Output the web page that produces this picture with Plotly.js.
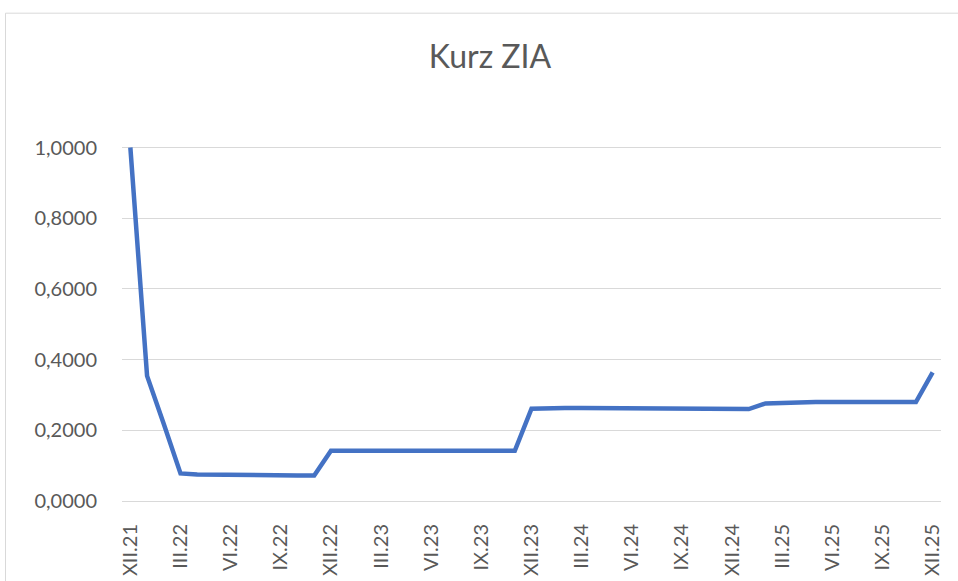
<!DOCTYPE html>
<html>
<head>
<meta charset="utf-8">
<script src="https://cdn.plot.ly/plotly-3.0.1.min.js"></script>
<style>
html,body{margin:0;padding:0;background:#fff;}
#chart{width:958px;height:581px;}
</style>
</head>
<body>
<div id="chart"></div>
<script>
const months = [
  "XII.21","I.22","II.22","III.22","IV.22","V.22","VI.22","VII.22","VIII.22","IX.22","X.22","XI.22",
  "XII.22","I.23","II.23","III.23","IV.23","V.23","VI.23","VII.23","VIII.23","IX.23","X.23","XI.23",
  "XII.23","I.24","II.24","III.24","IV.24","V.24","VI.24","VII.24","VIII.24","IX.24","X.24","XI.24",
  "XII.24","I.25","II.25","III.25","IV.25","V.25","VI.25","VII.25","VIII.25","IX.25","X.25","XI.25",
  "XII.25"
];
const kurz = [
  1.0000, 0.3540, 0.2180, 0.0780, 0.0750, 0.0740, 0.0740, 0.0730, 0.0720, 0.0720, 0.0720, 0.0720,
  0.1420, 0.1420, 0.1420, 0.1420, 0.1420, 0.1420, 0.1420, 0.1420, 0.1420, 0.1420, 0.1420, 0.1420,
  0.2610, 0.2630, 0.2630, 0.2630, 0.2630, 0.2630, 0.2630, 0.2630, 0.2630, 0.2600, 0.2600, 0.2600,
  0.2600, 0.2600, 0.2760, 0.2780, 0.2800, 0.2800, 0.2800, 0.2800, 0.2800, 0.2800, 0.2800, 0.2800,
  0.3640
];
const tickLabels = ["XII.21","III.22","VI.22","IX.22","XII.22","III.23","VI.23","IX.23","XII.23",
  "III.24","VI.24","IX.24","XII.24","III.25","VI.25","IX.25","XII.25"];
const titleText = "Kurz ZIA";

const ML = 122, MR = 17, MT = 143.5, MB = 80, W = 958, H = 581;
const pw = W - ML - MR, ph = H - MT - MB;
const px = v => (v - ML) / pw;
const py = v => (H - MB - v) / ph;

const trace = {
  x: months, y: kurz, type: 'scatter', mode: 'lines',
  line: {color: '#4472C4', width: 4.5, shape: 'linear'},
  hoverinfo: 'x+y'
};
const font = "Lato, 'Open Sans', sans-serif";
const layout = {
  width: W, height: H,
  margin: {l: ML, r: MR, t: MT, b: MB, pad: 0},
  paper_bgcolor: '#ffffff', plot_bgcolor: '#ffffff',
  separators: ', ',
  showlegend: false,
  title: {text: titleText, font: {family: font, size: 32, color: '#595959'},
          xref: 'container', yref: 'container', x: 490/958, xanchor: 'center',
          y: 1 - 57/581, yanchor: 'middle'},
  xaxis: {type: 'category', range: [-0.5, 48.5], tickmode: 'array', tickvals: tickLabels, ticktext: tickLabels,
          tickangle: -90, showgrid: false, zeroline: false, showline: true, linecolor: '#d9d9d9', linewidth: 1,
          ticks: 'outside', ticklen: 14, tickcolor: 'rgba(0,0,0,0)',
          tickfont: {family: font, size: 20, color: '#595959'}, fixedrange: true},
  yaxis: {range: [0, 1.01], tickmode: 'linear', tick0: 0, dtick: 0.2, tickformat: '.4f',
          showgrid: true, gridcolor: '#d9d9d9', gridwidth: 1, zeroline: false, showline: false,
          ticks: 'outside', ticklen: 20, tickcolor: 'rgba(0,0,0,0)',
          tickfont: {family: font, size: 20, color: '#595959'}, fixedrange: true},
  shapes: [
    {type: 'line', xref: 'paper', yref: 'paper', x0: px(5.5), x1: px(5.5), y0: py(H + 5), y1: py(12.5),
     line: {color: '#d9d9d9', width: 1}},
    {type: 'line', xref: 'paper', yref: 'paper', x0: px(5.5), x1: px(W + 5), y0: py(12.5), y1: py(12.5),
     line: {color: '#d9d9d9', width: 1}}
  ]
};
Plotly.newPlot('chart', [trace], layout, {displayModeBar: false, staticPlot: true});
</script>
</body>
</html>
